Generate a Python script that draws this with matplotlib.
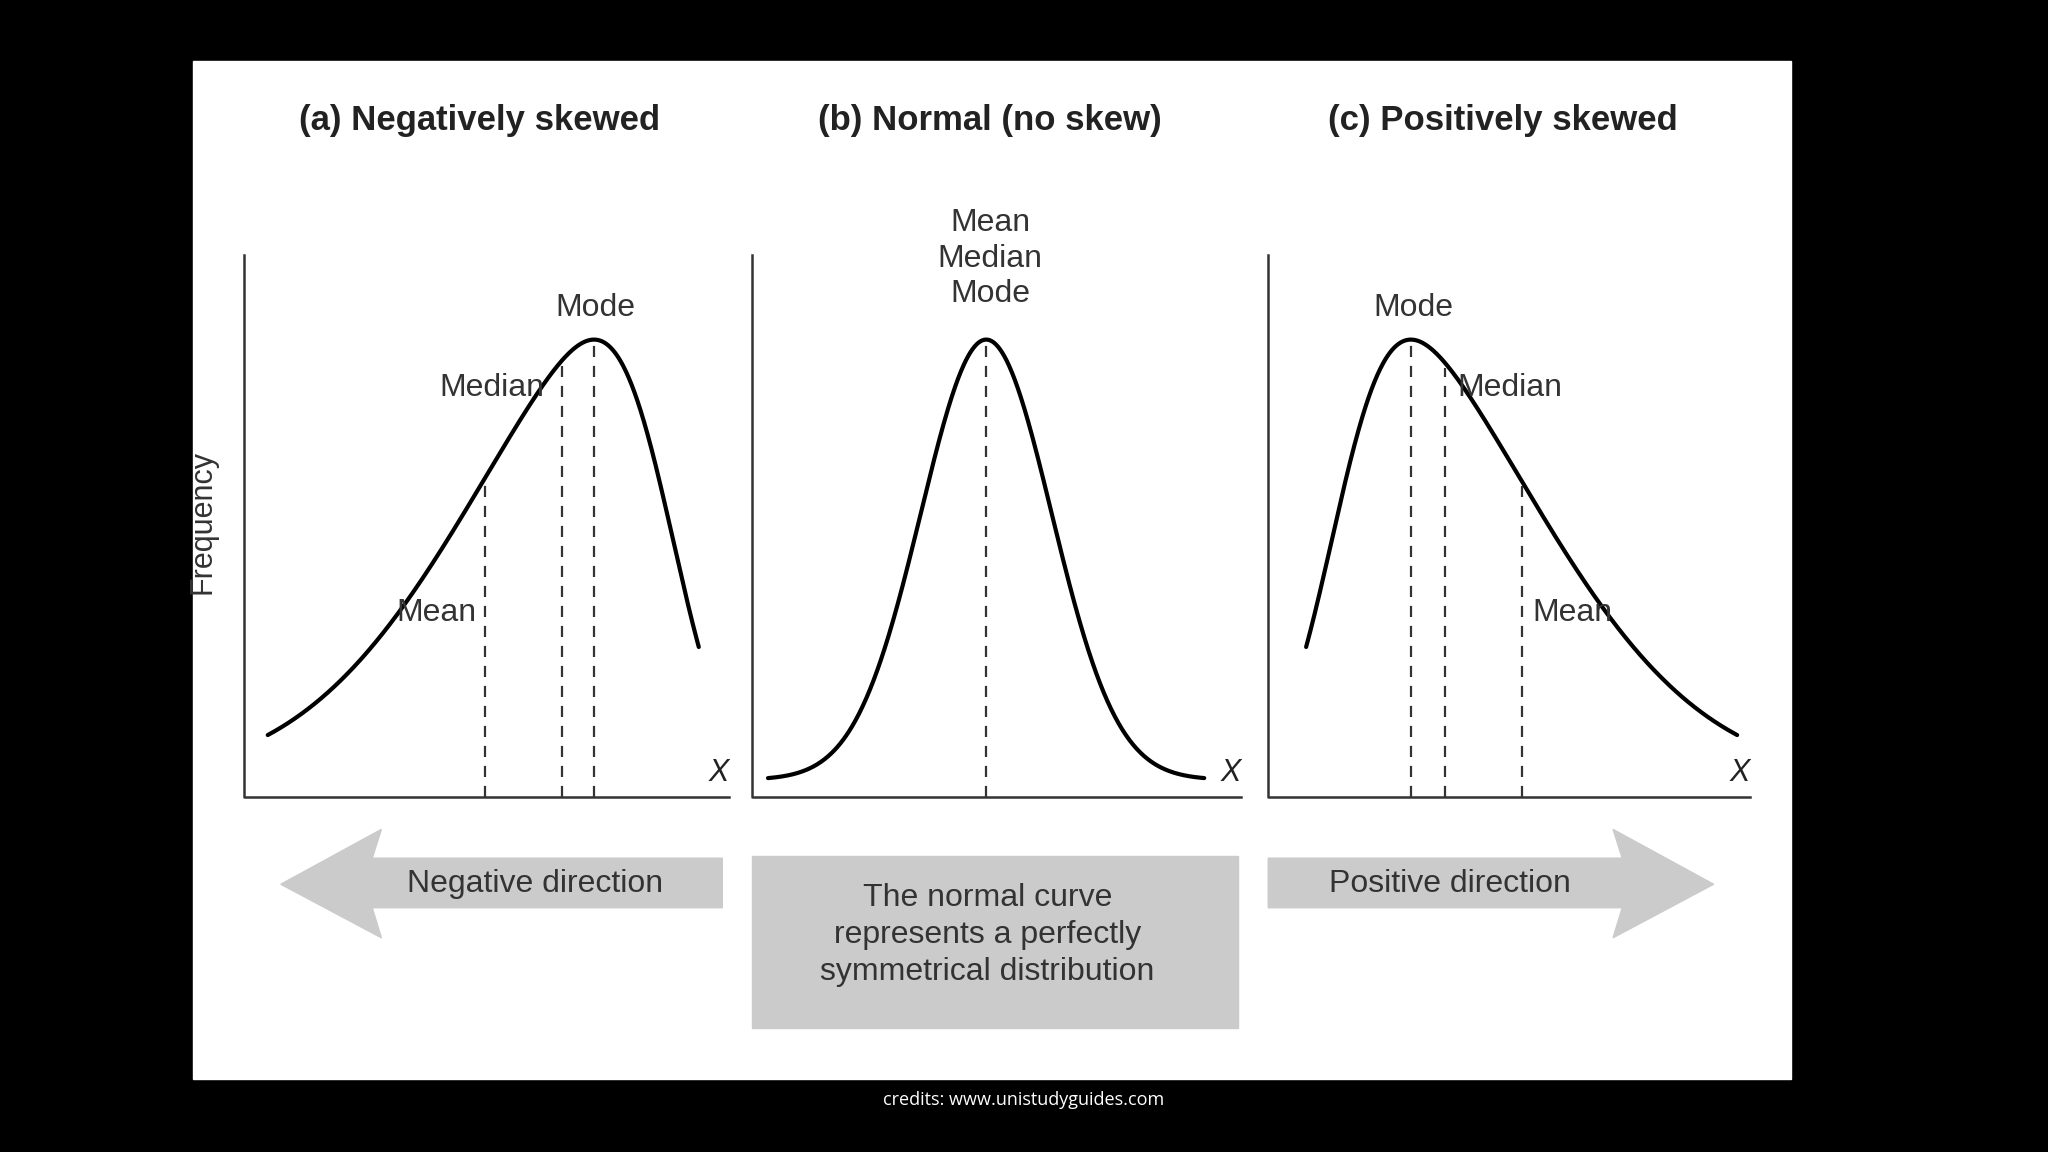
import numpy as np
import matplotlib
matplotlib.use("Agg")
import matplotlib.pyplot as plt
from matplotlib.patches import Polygon, Rectangle
from math import erf

FONT = ['Liberation Sans Narrow', 'Liberation Sans', 'DejaVu Sans']

titles = ["(a) Negatively skewed", "(b) Normal (no skew)", "(c) Positively skewed"]
# panel geometry (in canvas units) and distribution parameters
axis_left = [187, 576, 971]
axis_right = [558, 950, 1340]
curve_start = [205, 588, 1000]
curve_end = [535, 922, 1330]
modes = [455, 755, 1080]
skew_alpha = [-4, 0, 4]
spread = [140, 50, 140]
mean_x = [371, 755, 1165]
median_x = [430, 755, 1106]
arrow_labels = ["Negative direction", "The normal curve\nrepresents a perfectly\nsymmetrical distribution", "Positive direction"]
credits = "credits: www.unistudyguides.com"

BASE, PEAK, AXB, AXT = 597, 260, 610, 195

fig = plt.figure(figsize=(20.48, 11.52), dpi=100, facecolor='black')
ax = fig.add_axes([0, 0, 1, 1])
ax.set_xlim(0, 1568); ax.set_ylim(882, 0); ax.axis('off')
ax.add_patch(Rectangle((148, 47), 1223, 779, color='white'))

def density(x, loc, w, a):
    z = (x - loc) / w
    phi = np.exp(-z**2 / 2)
    cdf = np.array([0.5 * (1 + erf(a * v / np.sqrt(2))) for v in z])
    return phi * cdf

for i in range(3):
    a, w = skew_alpha[i], spread[i]
    grid = np.linspace(modes[i] - 6 * w, modes[i] + 6 * w, 4000)
    d = density(grid, 0 + modes[i], w, a)
    shift = modes[i] - grid[np.argmax(d)]
    xs = np.linspace(curve_start[i], curve_end[i], 600)
    dd = density(xs - shift, modes[i], w, a) / d.max()
    ys = BASE - dd * (BASE - PEAK)
    ax.plot(xs, ys, color='black', lw=3, solid_capstyle='round')
    # axes
    ax.plot([axis_left[i], axis_left[i], axis_right[i]], [AXT, AXB, AXB], color='#333333', lw=1.8)
    ax.text(axis_right[i] - 8, 592, "X", fontsize=22, style='italic', family=FONT, ha='center', va='center', color='#222')
    ax.text((axis_left[i] + axis_right[i]) / 2 - 5, 92, titles[i], fontsize=25, fontweight='bold', family=FONT,
            ha='center', va='center', color='#222')
    for xv in sorted(set([mean_x[i], median_x[i], modes[i]])):
        yv = BASE - density(np.array([xv - shift]), modes[i], w, a)[0] / d.max() * (BASE - PEAK)
        ax.plot([xv, xv], [AXB, yv + 4], color='#333', lw=1.6, dashes=(5, 4))

kw = dict(fontsize=23, family=FONT, color='#333', va='center')
ax.text(456, 236, "Mode", ha='center', **kw)
ax.text(417, 297, "Median", ha='right', **kw)
ax.text(365, 469, "Mean", ha='right', **kw)
ax.text(758, 198, "Mean\nMedian\nMode", ha='center', linespacing=1.25, **kw)
ax.text(1082, 236, "Mode", ha='center', **kw)
ax.text(1116, 297, "Median", ha='left', **kw)
ax.text(1173, 469, "Mean", ha='left', **kw)
ax.text(155, 400, "Frequency", rotation=90, fontsize=22, family=FONT, color='#333', ha='center', va='center')

gray = '#cbcbcb'
ax.add_patch(Polygon([(215, 677), (292, 635), (285, 657), (553, 657), (553, 695), (285, 695), (292, 718)], color=gray))
ax.add_patch(Polygon([(1312, 677), (1235, 635), (1242, 657), (971, 657), (971, 695), (1242, 695), (1235, 718)], color=gray))
ax.add_patch(Rectangle((576, 655), 372, 132, color=gray))
ax.text(410, 677, arrow_labels[0], ha='center', **kw)
ax.text(756, 716, arrow_labels[1], ha='center', linespacing=1.3, **kw)
ax.text(1110, 677, arrow_labels[2], ha='center', **kw)
ax.text(784, 842, credits, fontsize=13, color='white', ha='center', va='center', family=['Open Sans', 'DejaVu Sans'])

fig.savefig("out.png", dpi=100, facecolor='black')
